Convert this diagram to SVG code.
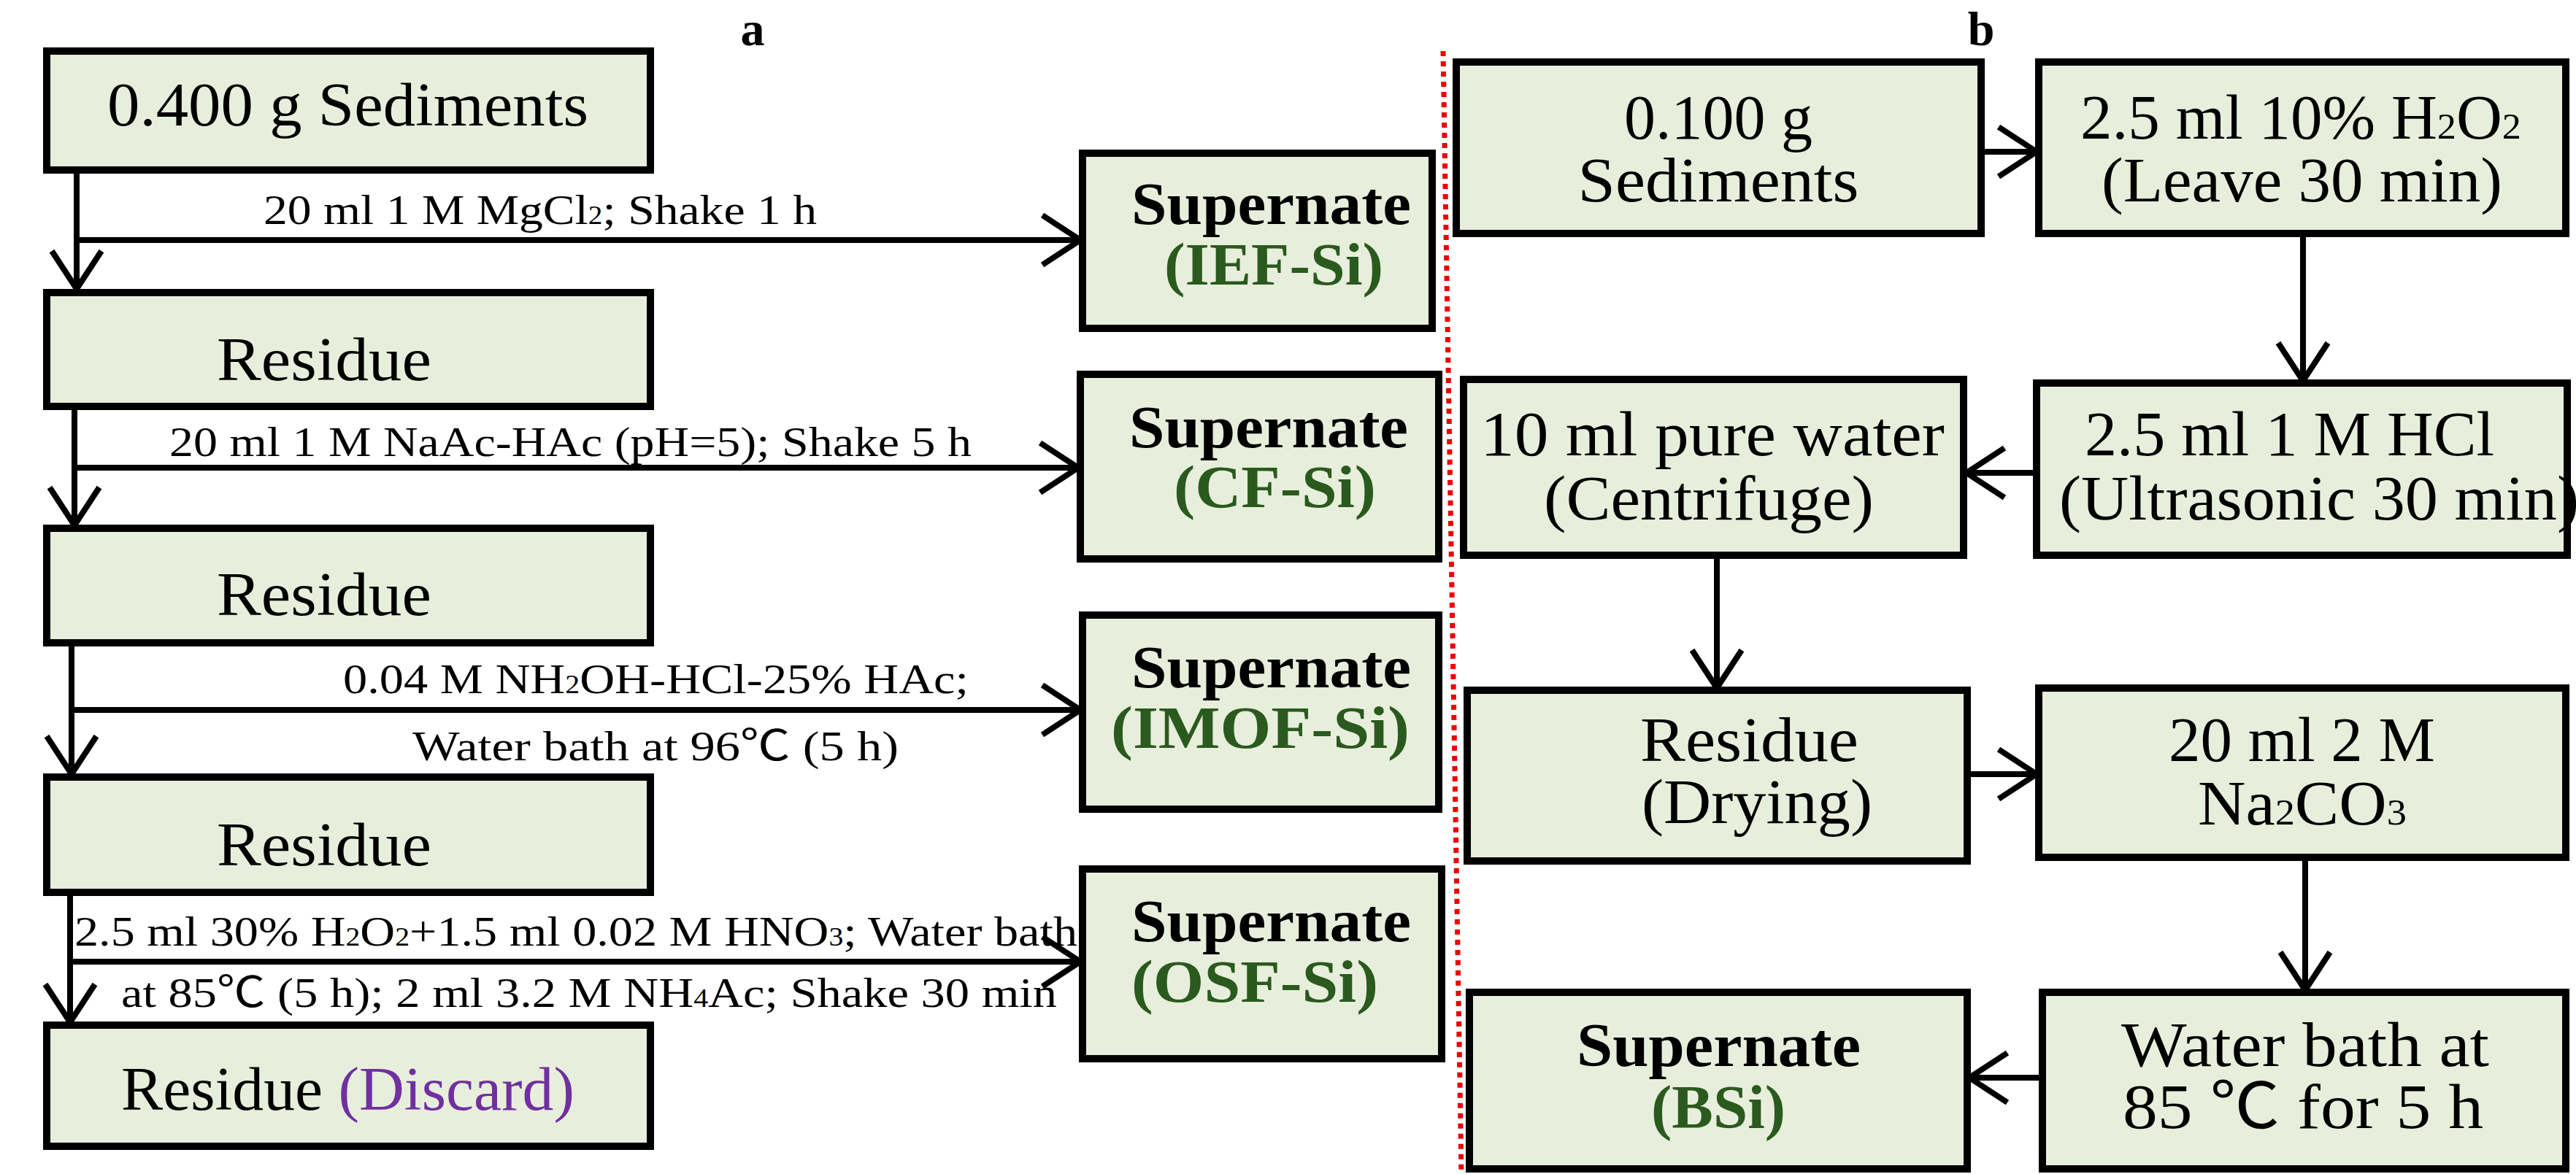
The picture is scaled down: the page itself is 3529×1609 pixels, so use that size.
<svg xmlns="http://www.w3.org/2000/svg" width="3529" height="1609" viewBox="0 0 3529 1609">
<style>
.box{fill:#e8eedc;stroke:#000;stroke-width:10}
text{font-family:"Liberation Serif","Noto Sans CJK SC",serif;fill:#000}
.m{font-size:84px}
.l{font-size:58px}
.b{font-size:82px;font-weight:bold}
.g{fill:#2a5a1e;font-weight:bold;font-size:82px}
.p{fill:#7030a0}
.s{font-size:0.6em}
.c{fill:none;stroke:#000;stroke-width:8;marker-end:url(#ah)}
</style>
<defs>
<marker id="ah" markerUnits="userSpaceOnUse" markerWidth="90" markerHeight="90" viewBox="-60 -45 70 90" refX="0" refY="0" orient="auto">
<path d="M-52,-34 L0,0 L-52,34" fill="none" stroke="#000" stroke-width="8"/>
</marker>
</defs>
<text x="1031" y="62" class="b" text-anchor="middle" style="font-size:66px">a</text>
<text x="2714" y="62" class="b" text-anchor="middle" style="font-size:66px">b</text>
<line x1="1977" y1="70" x2="2002" y2="1609" stroke="#e00" stroke-width="7" stroke-dasharray="7,7"/>
<g id="connectors">
<path class="c" d="M105,233 V396"/>
<path class="c" d="M105,329 H1480"/>
<path class="c" d="M102,557 V720"/>
<path class="c" d="M102,641 H1477"/>
<path class="c" d="M98,881 V1061"/>
<path class="c" d="M98,973 H1480"/>
<path class="c" d="M96,1223 V1401"/>
<path class="c" d="M96,1318 H1480"/>
<path class="c" d="M2714,208 H2790"/>
<path class="c" d="M3155,320 V522"/>
<path class="c" d="M2790,648 H2694"/>
<path class="c" d="M2352,761 V943"/>
<path class="c" d="M2695,1061 H2790"/>
<path class="c" d="M3158,1175 V1357"/>
<path class="c" d="M2798,1477 H2698"/>
</g>
<g id="labels">
<text x="361" y="307" class="l" textLength="758" lengthAdjust="spacingAndGlyphs">20 ml 1 M MgCl<tspan class="s">2</tspan>; Shake 1 h</text>
<text x="232" y="625" class="l" textLength="1099" lengthAdjust="spacingAndGlyphs">20 ml 1 M NaAc-HAc (pH=5); Shake 5 h</text>
<text x="470" y="950" class="l" textLength="857" lengthAdjust="spacingAndGlyphs">0.04 M NH<tspan class="s">2</tspan>OH-HCl-25% HAc;</text>
<text x="565" y="1042" class="l" textLength="666" lengthAdjust="spacingAndGlyphs">Water bath at 96℃  (5 h)</text>
<text x="102" y="1296" class="l" textLength="1374" lengthAdjust="spacingAndGlyphs">2.5 ml 30% H<tspan class="s">2</tspan>O<tspan class="s">2</tspan>+1.5 ml 0.02 M HNO<tspan class="s">3</tspan>; Water bath</text>
<text x="166" y="1380" class="l" textLength="1282" lengthAdjust="spacingAndGlyphs">at 85℃  (5 h); 2 ml 3.2 M NH<tspan class="s">4</tspan>Ac; Shake 30 min</text>
</g>
<g id="n1"><rect class="box" x="64" y="70" width="827" height="163"/><text x="147" y="172" class="m" textLength="659" lengthAdjust="spacingAndGlyphs">0.400 g Sediments</text></g>
<g id="n2"><rect class="box" x="64" y="401" width="827" height="156"/><text x="297" y="521" class="m" textLength="294" lengthAdjust="spacingAndGlyphs">Residue</text></g>
<g id="n3"><rect class="box" x="64" y="724" width="827" height="157"/><text x="297" y="843" class="m" textLength="294" lengthAdjust="spacingAndGlyphs">Residue</text></g>
<g id="n4"><rect class="box" x="64" y="1065" width="827" height="158"/><text x="297" y="1186" class="m" textLength="294" lengthAdjust="spacingAndGlyphs">Residue</text></g>
<g id="n5"><rect class="box" x="64" y="1405" width="827" height="166"/><text x="166" y="1521" class="m" textLength="621" lengthAdjust="spacingAndGlyphs">Residue <tspan class="p">(Discard)</tspan></text></g>
<g id="s1"><rect class="box" x="1483" y="210" width="479" height="240"/><text x="1550" y="307" class="b" textLength="383" lengthAdjust="spacingAndGlyphs">Supernate</text><text x="1595" y="390" class="g" textLength="300" lengthAdjust="spacingAndGlyphs">(IEF-Si)</text></g>
<g id="s2"><rect class="box" x="1480" y="513" width="491" height="253"/><text x="1547" y="613" class="b" textLength="382" lengthAdjust="spacingAndGlyphs">Supernate</text><text x="1608" y="695" class="g" textLength="277" lengthAdjust="spacingAndGlyphs">(CF-Si)</text></g>
<g id="s3"><rect class="box" x="1483" y="843" width="488" height="266"/><text x="1550" y="942" class="b" textLength="383" lengthAdjust="spacingAndGlyphs">Supernate</text><text x="1522" y="1025" class="g" textLength="409" lengthAdjust="spacingAndGlyphs">(IMOF-Si)</text></g>
<g id="s4"><rect class="box" x="1483" y="1191" width="492" height="260"/><text x="1550" y="1290" class="b" textLength="383" lengthAdjust="spacingAndGlyphs">Supernate</text><text x="1550" y="1373" class="g" textLength="338" lengthAdjust="spacingAndGlyphs">(OSF-Si)</text></g>
<g id="b1"><rect class="box" x="1995" y="85" width="719" height="235"/><text x="2354" y="190" class="m" text-anchor="middle" style="font-size:86px">0.100 g</text><text x="2354" y="276" class="m" text-anchor="middle" textLength="385" lengthAdjust="spacingAndGlyphs" style="font-size:86px">Sediments</text></g>
<g id="b2"><rect class="box" x="2793" y="85" width="722" height="235"/><text x="2850" y="190" class="m" textLength="604" lengthAdjust="spacingAndGlyphs" style="font-size:86px">2.5 ml 10% H<tspan class="s">2</tspan>O<tspan class="s">2</tspan></text><text x="2879" y="276" class="m" textLength="549" lengthAdjust="spacingAndGlyphs" style="font-size:86px">(Leave 30 min)</text></g>
<g id="b3"><rect class="box" x="2005" y="520" width="685" height="241"/><text x="2028" y="624" class="m" textLength="636" lengthAdjust="spacingAndGlyphs" style="font-size:86px">10 ml pure water</text><text x="2115" y="712" class="m" textLength="452" lengthAdjust="spacingAndGlyphs" style="font-size:86px">(Centrifuge)</text></g>
<g id="b4"><rect class="box" x="2790" y="525" width="727" height="236"/><text x="2856" y="624" class="m" textLength="561" lengthAdjust="spacingAndGlyphs" style="font-size:86px">2.5 ml 1 M HCl</text><text x="2821" y="712" class="m" textLength="712" lengthAdjust="spacingAndGlyphs" style="font-size:86px">(Ultrasonic 30 min)</text></g>
<g id="b5"><rect class="box" x="2010" y="946" width="685" height="234"/><text x="2247" y="1043" class="m" textLength="299" lengthAdjust="spacingAndGlyphs" style="font-size:86px">Residue</text><text x="2249" y="1128" class="m" textLength="316" lengthAdjust="spacingAndGlyphs" style="font-size:86px">(Drying)</text></g>
<g id="b6"><rect class="box" x="2793" y="943" width="722" height="232"/><text x="2971" y="1043" class="m" textLength="365" lengthAdjust="spacingAndGlyphs" style="font-size:86px">20 ml 2 M</text><text x="3011" y="1130" class="m" textLength="286" lengthAdjust="spacingAndGlyphs" style="font-size:86px">Na<tspan class="s">2</tspan>CO<tspan class="s">3</tspan></text></g>
<g id="b7"><rect class="box" x="2013" y="1360" width="682" height="242"/><text x="2160" y="1461" class="b" textLength="389" lengthAdjust="spacingAndGlyphs" style="font-size:84px">Supernate</text><text x="2262" y="1546" class="g" textLength="184" lengthAdjust="spacingAndGlyphs" style="font-size:84px">(BSi)</text></g>
<g id="b8"><rect class="box" x="2798" y="1360" width="717" height="242"/><text x="2906" y="1461" class="m" textLength="504" lengthAdjust="spacingAndGlyphs" style="font-size:86px">Water bath at</text><text x="2908" y="1546" class="m" textLength="494" lengthAdjust="spacingAndGlyphs" style="font-size:86px">85  ℃  for 5 h</text></g>
</svg>
